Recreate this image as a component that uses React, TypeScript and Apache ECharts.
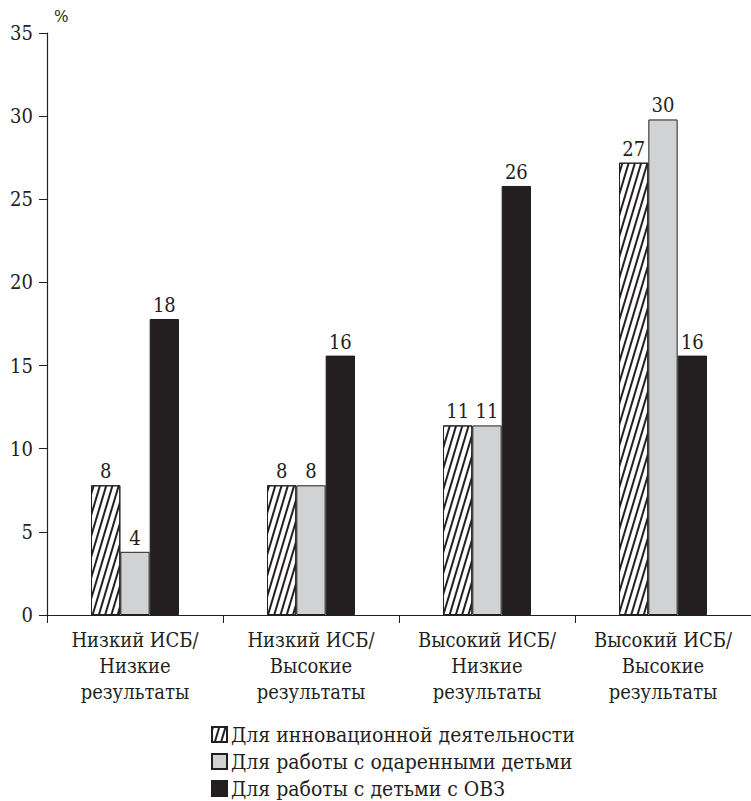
import React, { useEffect, useRef } from "react";
import * as echarts from "echarts";

const categories = [
  "Низкий ИСБ/\nНизкие\nрезультаты",
  "Низкий ИСБ/\nВысокие\nрезультаты",
  "Высокий ИСБ/\nНизкие\nрезультаты",
  "Высокий ИСБ/\nВысокие\nрезультаты",
];
const seriesNames = [
  "Для инновационной деятельности",
  "Для работы с одаренными детьми",
  "Для работы с детьми с ОВЗ",
];
const innovation = [7.8, 7.8, 11.4, 27.2];
const gifted = [3.8, 7.8, 11.4, 29.8];
const special = [17.8, 15.6, 25.8, 15.6];
const yTicks = [0, 5, 10, 15, 20, 25, 30, 35];

const FONT = "DejaVu Serif Condensed, DejaVu Serif, serif";
const INK = "#231f20";

export default function App() {
  const ref = useRef<HTMLDivElement>(null);

  useEffect(() => {
    if (!ref.current) return;
    const chart = echarts.init(ref.current, undefined, { renderer: "svg" });

    const label = {
      show: true,
      position: "top" as const,
      distance: 4,
      color: INK,
      fontFamily: FONT,
      fontSize: 20,
      formatter: (p: any) => String(Math.round(p.value)),
    };

    chart.setOption({
      animation: false,
      backgroundColor: "#ffffff",
      textStyle: { fontFamily: FONT, color: INK },
      grid: { left: 47, right: -4, top: 33, bottom: 186, containLabel: false },
      graphic: [
        {
          type: "text",
          left: 54,
          top: 7,
          style: { text: "%", fontFamily: FONT, fontSize: 17, fill: INK },
        },
      ],
      legend: {
        orient: "vertical",
        left: 206,
        top: 719,
        height: 90,
        icon: "rect",
        itemWidth: 15,
        itemHeight: 15,
        itemGap: 6,
        selectedMode: false,
        textStyle: { fontFamily: FONT, fontSize: 21, lineHeight: 20, color: INK, padding: [0, 0, 0, -1] },
        data: seriesNames,
      },
      xAxis: {
        type: "category",
        data: categories,
        axisLine: { lineStyle: { color: INK, width: 1.2 } },
        axisTick: { show: true, length: 8, alignWithLabel: false, lineStyle: { color: INK } },
        axisLabel: {
          fontFamily: FONT,
          fontSize: 20,
          color: INK,
          margin: 12,
          lineHeight: 26,
          interval: 0,
        },
      },
      yAxis: {
        type: "value",
        min: yTicks[0],
        max: yTicks[yTicks.length - 1],
        interval: 5,
        splitLine: { show: false },
        axisLine: { show: true, lineStyle: { color: INK, width: 1.2 } },
        axisTick: { show: true, length: 8, lineStyle: { color: INK } },
        axisLabel: { fontFamily: FONT, fontSize: 20, color: INK, margin: 14 },
      },
      series: [
        {
          name: seriesNames[0],
          type: "bar",
          data: innovation,
          barGap: "0%",
          barCategoryGap: "50%",
          itemStyle: {
            color: "#ffffff",
            borderColor: INK,
            borderWidth: 1,
            decal: {
              symbol: "rect",
              color: INK,
              dashArrayX: [1, 0],
              dashArrayY: [1.15, 3.5],
              rotation: -1.28,
              symbolSize: 1,
            },
          },
          label,
        },
        {
          name: seriesNames[1],
          type: "bar",
          data: gifted,
          itemStyle: { color: "#d1d2d4", borderColor: INK, borderWidth: 1 },
          label,
        },
        {
          name: seriesNames[2],
          type: "bar",
          data: special,
          itemStyle: { color: INK, borderColor: INK, borderWidth: 1 },
          label,
        },
      ],
    });

    return () => chart.dispose();
  }, []);

  return <div ref={ref} style={{ width: 751, height: 801, position: "absolute", left: 0, top: 0 }} />;
}
